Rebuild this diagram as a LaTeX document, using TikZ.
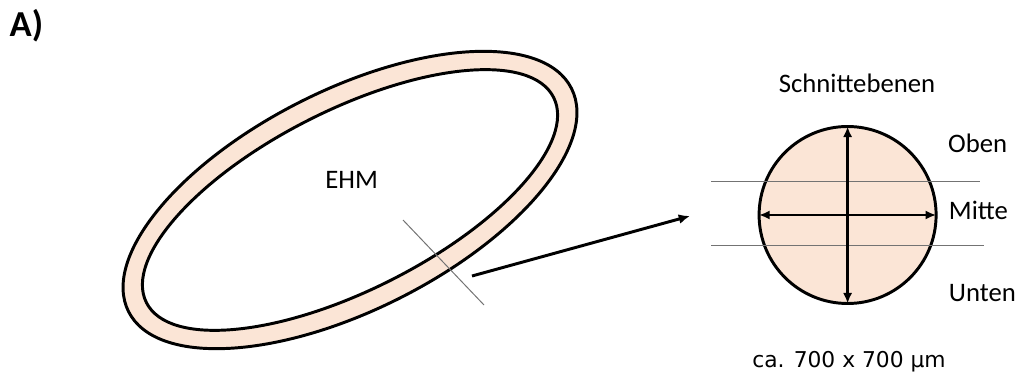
\documentclass[tikz,border=0pt]{standalone}
\usepackage{fontspec}
\setmainfont{Carlito}
\newfontfamily\unitfont{DejaVu Sans}
\usepackage{xcolor}
\usetikzlibrary{arrows.meta,positioning,shapes.geometric}
\definecolor{tissue}{HTML}{FBE5D6}

\begin{document}
\begin{tikzpicture}[font=\fontsize{19}{23}\selectfont,
  outline/.style={line width=2.1pt},
  cutline/.style={line width=0.7pt,draw=black!55},
  dblarrow/.style={line width=2.1pt,{Latex[length=7.5pt,width=6.5pt]}-{Latex[length=7.5pt,width=6.5pt]}}]
  \useasboundingbox (0,0) rectangle (25.525,-9.45);
  \node[anchor=base,font=\fontsize{26}{30}\selectfont\bfseries] (lbl) at (0.66,-0.925) {A)};

  % ring (EHM)
  \node[ellipse,draw,outline,fill=tissue,minimum width=12.4cm,minimum height=5.5cm,
        inner sep=0,outer sep=0,rotate=26.75] (ring) at (8.75,-5) {};
  \node[ellipse,draw,outline,fill=white,minimum width=11.4cm,minimum height=4.5cm,
        inner sep=0,outer sep=0,rotate=26.75] (lumen) at (8.75,-5) {};
  \node[anchor=base] (ehm) at (8.79,-4.725) {EHM};
  \coordinate (cutA) at (10.075,-5.5);
  \coordinate (cutB) at (12.1,-7.625);
  \draw[cutline] (cutA) -- (cutB);

  \coordinate (src) at (11.8,-6.9);
  \coordinate (dst) at (17.25,-5.4);
  \draw[outline,-{Latex[length=8pt,width=7pt]}] (src) -- (dst);

  % cross section
  \node[circle,draw,outline,fill=tissue,minimum size=4.425cm,inner sep=0,outer sep=0] (sec) at (21.19,-5.375) {};
  \coordinate (upA) at (17.775,-4.525);
  \coordinate (upB) at (24.5,-4.525);
  \coordinate (loA) at (17.775,-6.125);
  \coordinate (loB) at (24.6,-6.125);
  \draw[cutline] (upA) -- (upB);
  \draw[cutline] (loA) -- (loB);
  \draw[dblarrow] (sec.north) -- (sec.south);
  \draw[dblarrow] (sec.west) -- (sec.east);

  \node[anchor=base] (title) at (21.425,-2.325) {Schnittebenen};
  \node[anchor=base] (oben) at (24.44,-3.825) {Oben};
  \node[anchor=base] (mitte) at (24.46,-5.5) {Mitte};
  \node[anchor=base] (unten) at (24.56,-7.54) {Unten};
  \node[anchor=base,font=\fontsize{15.5}{18}\selectfont\unitfont] (size) at (21.225,-9.175) {ca. 700 x 700 µm};
\end{tikzpicture}
\end{document}
